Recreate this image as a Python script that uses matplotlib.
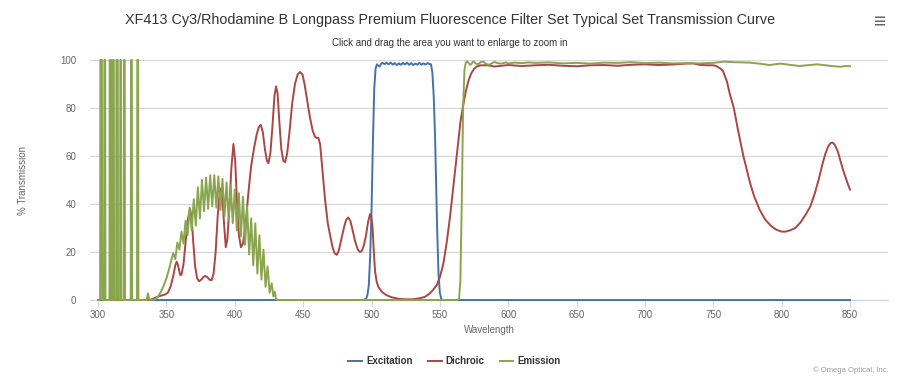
import matplotlib.pyplot as plt
from matplotlib.lines import Line2D

plt.rcParams['font.family'] = ['Liberation Sans', 'DejaVu Sans']

# ─── Data ────────────────────────────────────────────────────────────────────
EX_WL = [300, 494, 496, 497, 498, 499, 500, 501, 502, 503, 504, 505, 506, 507,
         508, 509.5, 511, 512.5, 514, 515.5, 517, 518.5, 520, 521.5, 523, 524.5,
         526, 527.5, 529, 530.5, 532, 533.5, 535, 536.5, 538, 539.5, 541, 542.5,
         543.5, 544.5, 545.5, 546.5, 547.2, 548, 549, 550, 551, 552, 850]
EX_T = [0, 0, 0.5, 2, 6, 18, 37, 65, 88, 96.5, 98.2, 97.6, 97.3, 98.4,
        98.8, 98.3, 98.9, 98.2, 98.9, 98.1, 98.7, 97.9, 98.6, 98.0, 98.8, 98.1,
        98.9, 98.0, 98.7, 97.9, 98.5, 98.1, 98.8, 98.0, 98.6, 98.1, 98.7, 98.3,
        98.2, 95, 85, 68, 50, 30, 11, 3, 0.5, 0, 0]

DI_WL = [300, 338, 340, 343, 346, 349, 351, 353, 355, 356.5, 357.5, 358.5, 360,
         361, 362.5, 364, 365.5, 367.3, 368.5, 369.5, 371, 372.5, 374, 375.5,
         377, 378.5, 380, 381.5, 383, 384.5, 386, 387.5, 389, 390.5, 392, 393.4,
         394.5, 396, 397.5, 399, 400.3, 401.5, 403, 404.5, 406, 408, 410, 412,
         414, 416, 417.5, 419, 420.5, 422, 423.5, 424.6, 426, 427.5, 429, 430.2,
         431.3, 432.5, 434, 435.5, 436.8, 438.3, 440, 442, 444, 446, 447.7,
         449.5, 451, 453, 455, 457, 458.7, 460, 461.1, 462.4, 464, 466, 468,
         469.7, 471.5, 473, 474.6, 476, 478, 480, 481.5, 483, 484.5, 486, 488,
         490, 491.6, 493, 494.5, 496, 497.5, 498.9, 499.8, 500.8, 501.6, 502.6,
         503.8, 505, 506.2, 508, 511, 515, 520, 525, 530, 535, 539, 542.8, 545,
         547.7, 550, 552.5, 555, 557.5, 560, 562.5, 565, 567, 569, 571, 573,
         575, 577, 580, 585, 590, 595, 600, 610, 620, 630, 640, 650, 660, 670,
         680, 690, 700, 710, 720, 730, 735, 740, 745, 750, 752, 755, 757, 760,
         762, 765, 768, 772, 775, 777, 780, 784, 788, 792, 796, 800, 803, 806,
         810, 814, 818, 821, 824, 827, 830, 832, 834, 836, 837.5, 839, 841, 843,
         845, 848, 850]
DI_T = [0, 0, 0.5, 1.2, 1.8, 2.3, 3, 5.5, 10, 14.5, 16, 14.5, 10.5,
        10.5, 15, 24, 33, 38, 34, 25, 14, 9, 7.8, 8.5,
        9.6, 10, 9.5, 8.5, 8.2, 11, 20, 35, 45, 47, 33, 22,
        25, 38, 55, 65, 58, 42, 27, 22, 23.5, 32, 45, 56,
        63, 69, 72, 73, 70, 63, 58, 57, 61, 72, 85, 89,
        86, 75, 63, 58, 57.4, 61, 70, 82, 90, 94, 95,
        94, 90, 83, 76, 70.5, 68, 67.5, 67.6, 65, 55, 42, 32,
        27, 22, 19.5, 18.8, 20.5, 25.5, 30.5, 33.5, 34.4, 33, 29.5, 24.5,
        21, 20, 20.5, 23, 27, 32.5, 35.8, 35, 30, 21, 12,
        7.5, 5.5, 4.5, 3.2, 2, 1.1, 0.5, 0.3, 0.3, 0.7, 1.3, 2.8, 4.2,
        6.2, 9.5, 15, 24, 35, 48, 61, 74, 81, 87, 91.5, 94.5,
        96.3, 97.3, 97.8, 97.8, 97.3, 97.6, 97.9, 97.5, 97.8, 98, 97.6, 97.4, 97.8, 97.9,
        97.6, 98, 98.2, 97.9, 98.1, 98.5, 98.6, 98, 97.8, 97.8, 97.5, 96.5, 95.5, 91,
        86, 80, 71, 60, 53, 48.5, 43, 37.5, 33.5, 31, 29.3, 28.5, 28.5, 29,
        30, 32.5, 36, 39, 44, 50, 57, 61, 64, 65.5, 65.5, 64.5, 62, 58,
        54, 49, 46]

EM_WL = [300.0, 301.5, 301.7, 302.8, 303.0, 304.4, 304.6, 305.2, 305.4, 308.3,
         308.5, 309.5, 309.7, 310.7, 310.9, 311.5, 311.7, 313.2, 313.4, 314.4,
         314.6, 316.1, 316.3, 316.8, 317.0, 318.8, 319.0, 319.5, 319.7, 323.9,
         324.1, 324.7, 324.9, 328.5, 328.7, 329.3, 329.5, 335.5, 336.5, 337.5,
         342, 344, 346, 348, 350, 352, 353.5,
         355, 356.5, 358, 359.5, 361, 362.5, 364, 365.5, 367, 368.5, 370, 371.5,
         373, 374.5, 376, 377.5, 379, 380.5, 382, 383.5, 385, 386.5, 388, 389.5,
         391, 392.5, 394, 395.5, 397, 398.5, 400, 401.5, 403, 404.5, 406, 407.5,
         409, 410.5, 412, 413.5, 415, 416.5, 418, 419.5, 421, 422.5, 424, 425.5,
         427, 428.2, 429.2, 430.2, 431, 563, 564, 565, 566, 567, 568, 569, 570,
         571, 572, 573, 574, 575, 576, 578, 580, 582, 584, 586, 588, 590, 592,
         595, 598, 600, 605, 610, 615, 620, 630, 640, 650, 660, 670, 680, 690,
         700, 710, 720, 730, 740, 750, 758, 765, 777, 785, 791, 799, 806, 813,
         820, 826, 832, 838, 843, 847, 850]
EM_T = [0, 0, 100, 100, 0, 0, 100, 100, 0, 0,
        100, 100, 0, 0, 100, 100, 0, 0, 100, 100,
        0, 0, 100, 100, 0, 0, 100, 100, 0, 0,
        100, 100, 0, 0, 100, 100, 0, 0, 2.8, 0,
        0.3, 1.5, 3.5, 6, 9, 13, 16.5,
        19.5, 17, 24, 21, 28.5, 23.5, 33, 27, 38.5, 29, 42, 31,
        47, 34, 50, 37, 51, 38, 52, 39, 52, 38.5, 51.5, 37.5,
        50.5, 35, 49, 33.5, 48, 32, 46, 29, 44.5, 26.5, 43, 23,
        39, 19, 34, 14.5, 32, 11, 27, 8.5, 21, 5.5, 14, 3,
        7, 1.5, 3.5, 0.5, 0, 0, 0.5, 8, 40, 80, 96, 99, 99.5,
        98.8, 98, 98.3, 99.2, 99.4, 98.6, 98.2, 99.2, 99.3, 98.3, 98, 98.6, 99.2, 98.7,
        98.5, 99, 98.6, 98.9, 98.7, 99, 98.8, 99, 98.6, 98.8, 98.5, 98.9, 98.8, 99.1,
        98.7, 98.9, 98.6, 98.7, 98.6, 98.8, 99.3, 99.1, 98.9, 98.4, 97.9, 98.5, 98, 97.5,
        97.9, 98.2, 97.8, 97.4, 97.2, 97.5, 97.4]

SERIES = [("Excitation", EX_WL, EX_T, "#4572A7"),
          ("Dichroic", DI_WL, DI_T, "#AA4643"),
          ("Emission", EM_WL, EM_T, "#89A54E")]

X_TICKS = list(range(300, 851, 50))
Y_TICKS = list(range(0, 101, 20))

# ─── Figure ──────────────────────────────────────────────────────────────────
fig = plt.figure(figsize=(9, 3.8), dpi=100)
ax = fig.add_axes([0.1, 0.2105, 0.8867, 0.6316])

for name, wl, t, color in SERIES:
    ax.plot(wl, t, color=color, lw=1.4, label=name, clip_on=False,
            solid_joinstyle="round", zorder=3)

for yv in Y_TICKS[1:]:
    ax.axhline(yv, color="#d8d8d8", lw=0.9, zorder=1)

ax.set_xlim(294.1, 877.8)
ax.set_ylim(0, 100)
ax.set_xticks(X_TICKS)
ax.set_yticks(Y_TICKS)
ax.tick_params(axis="x", length=5, width=0.8, color="#ccd6eb",
               labelsize=7, labelcolor="#666666", pad=2)
ax.tick_params(axis="y", length=0, labelsize=7, labelcolor="#666666", pad=10)
for s in ["top", "right", "left"]:
    ax.spines[s].set_visible(False)
ax.spines["bottom"].set_color("#ccd6eb")
ax.spines["bottom"].set_linewidth(0.9)

ax.set_xlabel("Wavelength", fontsize=7, color="#666666", labelpad=4)
fig.text(0.0255, 0.526, "% Transmission", rotation=90, ha="center",
         va="center", fontsize=7, color="#666666")

fig.text(0.5, 0.947, "XF413 Cy3/Rhodamine B Longpass Premium Fluorescence "
         "Filter Set Typical Set Transmission Curve",
         ha="center", va="center", fontsize=10.4, color="#333333")
fig.text(0.5, 0.887, "Click and drag the area you want to enlarge to zoom in",
         ha="center", va="center", fontsize=7, color="#333333")
fig.text(0.978, 0.94, "≡", ha="center", va="center", fontsize=15,
         color="#666666", fontweight="bold")

handles = [Line2D([], [], color=c, lw=1.4) for _, _, _, c in SERIES]
fig.legend(handles, [n for n, _, _, _ in SERIES], loc="center",
           bbox_to_anchor=(0.505, 0.05), ncol=3, frameon=False,
           prop={"size": 7, "weight": "bold"}, handlelength=1.4,
           handletextpad=0.4, columnspacing=1.6, labelcolor="#333333")

fig.text(0.987, 0.026, "© Omega Optical, Inc.", ha="right", va="center",
         fontsize=5.5, color="#999999")

fig.savefig("out.png", dpi=100)
